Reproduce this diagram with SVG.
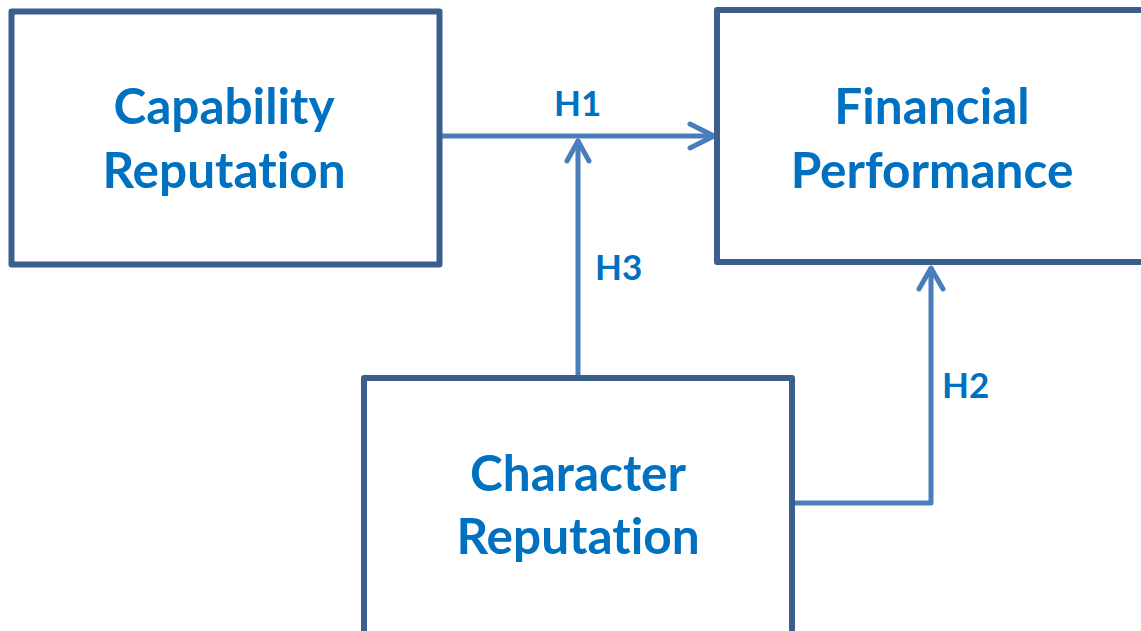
<svg xmlns="http://www.w3.org/2000/svg" width="1141" height="631" viewBox="0 0 1141 631">
<style>
.box{fill:#fff;stroke:#3A5F8C;stroke-width:6;stroke-linejoin:round}
.lbl{font-family:Lato,"Liberation Sans",sans-serif;font-weight:700;font-size:49.5px;fill:#0070C0;text-anchor:middle;font-variant-ligatures:none;font-feature-settings:"liga" 0}
.h{font-family:Lato,"Liberation Sans",sans-serif;font-weight:700;font-size:35px;fill:#0070C0}
.con{fill:none;stroke:#4A7EBB;stroke-width:5;stroke-linecap:round;stroke-linejoin:round}
</style>
<rect width="1141" height="631" fill="#fff"/>
<g id="connectors">
<path class="con" d="M442 136 H713"/>
<path class="con" d="M690 124 L714 136 L690 148"/>
<path class="con" d="M578 376 V141"/>
<path class="con" d="M567 161 L578 141 L589 161"/>
<path class="con" d="M795 503 H931 V269"/>
<path class="con" d="M919 289 L931 268 L943 289"/>
<text class="h" x="554" y="116">H1</text>
<text class="h" x="595" y="280">H3</text>
<text class="h" x="942" y="398">H2</text>
</g>
<g id="capability">
<rect class="box" x="11.5" y="11.5" width="428" height="253"/>
<text class="lbl" x="224" y="124">Capability</text>
<text class="lbl" x="224" y="188">Reputation</text>
</g>
<g id="financial">
<rect class="box" x="717" y="10" width="440" height="252"/>
<text class="lbl" x="932" y="124">Financial</text>
<text class="lbl" x="932" y="188">Performance</text>
</g>
<g id="character">
<rect class="box" x="364" y="378" width="428" height="270"/>
<text class="lbl" x="578" y="491">Character</text>
<text class="lbl" x="578" y="554">Reputation</text>
</g>
</svg>
